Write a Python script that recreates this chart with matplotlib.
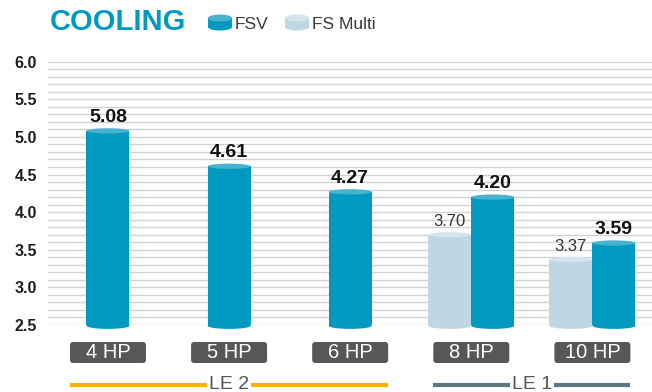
import matplotlib
matplotlib.use('Agg')
import matplotlib.pyplot as plt
from matplotlib.patches import Rectangle, Ellipse, FancyBboxPatch
from matplotlib.transforms import IdentityTransform, blended_transform_factory

plt.rcParams['font.family'] = ['Liberation Sans', 'DejaVu Sans']

# data
categories = ['4 HP', '5 HP', '6 HP', '8 HP', '10 HP']
fsv = [5.08, 4.61, 4.27, 4.20, 3.59]
fs_multi = [None, None, None, 3.70, 3.37]
groups = [('LE 2', 0, 2, '#F5B400'), ('LE 1', 3, 4, '#5E7783')]

FSV_COL = '#009AC0'
FSV_TOP = '#48B2CF'
MULTI_COL = '#BFD6E5'
MULTI_TOP = '#D5E5EF'

W, H = 652, 392
fig = plt.figure(figsize=(W / 100, H / 100), dpi=100)
ax = fig.add_axes([48 / W, 1 - 325 / H, 1 - 48 / W, (325 - 61.7) / H])

ymin, ymax = 2.5, 6.0
ax.set_xlim(-0.495, 4.492)
ax.set_ylim(ymin, ymax)

# horizontal rules every 0.1
for k in range(36):
    ax.axhline(ymin + k * 0.1, color='#d2d2d2', lw=1.0, zorder=0)

for s in ax.spines.values():
    s.set_visible(False)
ax.set_xticks([])
ax.set_yticks([2.5, 3.0, 3.5, 4.0, 4.5, 5.0, 5.5, 6.0])
ax.set_yticklabels(['%.1f' % v for v in ax.get_yticks()])
ax.tick_params(axis='y', length=0, pad=8, labelsize=11.5, labelcolor='#1e1e1e')
for t in ax.get_yticklabels():
    t.set_fontweight('bold')

bw = 0.355
ell_h = 0.07


def cylinder(xc, val, body, top):
    ax.add_patch(Ellipse((xc, ymin - 0.01), bw, ell_h * 1.2, color=body, lw=0, zorder=2, clip_on=False))
    ax.add_patch(Rectangle((xc - bw / 2, ymin - 0.01), bw, val - ymin + 0.01, color=body, lw=0, zorder=2))
    ax.add_patch(Ellipse((xc, val), bw, ell_h, color=top, lw=0, zorder=3))


for i, cat in enumerate(categories):
    if fs_multi[i] is None:
        x_fsv = i
    else:
        x_m = i - bw / 2
        x_fsv = i + bw / 2
        cylinder(x_m, fs_multi[i], MULTI_COL, MULTI_TOP)
        ax.text(x_m, fs_multi[i] + 0.08, '%.2f' % fs_multi[i], ha='center', va='bottom',
                fontsize=12, color='#333333')
    cylinder(x_fsv, fsv[i], FSV_COL, FSV_TOP)
    ax.text(x_fsv, fsv[i] + 0.07, '%.2f' % fsv[i], ha='center', va='bottom',
            fontsize=14, fontweight='bold', color='#111111')

fig.canvas.draw()
to_px = ax.transData

# category label boxes (fixed size, drawn in pixels)
box_w, box_h = 76, 21
box_cy = H - 352.5
for i, cat in enumerate(categories):
    px = to_px.transform((i, 0))[0]
    fig.add_artist(FancyBboxPatch((px - box_w / 2 + 2, box_cy - box_h / 2 + 2), box_w - 4, box_h - 4,
                                  boxstyle='round,pad=2,rounding_size=3',
                                  transform=IdentityTransform(), fc='#575757', ec='none'))
    fig.text(px / W, box_cy / H, cat, ha='center', va='center', fontsize=14.5,
             color='white')

# group brackets under the labels
line_y = 1 - 385 / H
tr = blended_transform_factory(ax.transData, fig.transFigure)
half = (box_w / 2) / (to_px.transform((1, 0))[0] - to_px.transform((0, 0))[0])
for name, a, b, col in groups:
    x0, x1 = a - half, b + half
    ax.plot([x0, x1], [line_y, line_y], color=col, lw=3, transform=tr, clip_on=False,
            solid_capstyle='butt')
    ax.text((x0 + x1) / 2, line_y + 0.002, name, transform=tr, ha='center', va='center',
            fontsize=14, color='#555555', family=['Liberation Sans Narrow', 'Liberation Sans'],
            bbox=dict(fc='white', ec='none', pad=1.5))

# title and legend
fig.text(50 / W, 1 - 30 / H, 'COOLING', ha='left', va='baseline', fontsize=21,
         fontweight='bold', color='#0099C0')


def legend_icon(x0, body, top):
    y_top, y_bot = H - 18, H - 27
    ih = 7
    fig.add_artist(Ellipse((x0 + 12, y_bot), 24, ih, color=body, lw=0, transform=IdentityTransform()))
    fig.add_artist(Rectangle((x0, y_bot), 24, y_top - y_bot, color=body, lw=0,
                             transform=IdentityTransform()))
    fig.add_artist(Ellipse((x0 + 12, y_top), 24, ih, color=top, lw=0, transform=IdentityTransform()))


legend_icon(208, FSV_COL, FSV_TOP)
legend_icon(285, MULTI_COL, MULTI_TOP)
fig.text(235 / W, 1 - 29 / H, 'FSV', ha='left', va='baseline', fontsize=12.5, color='#3a3a3a')
fig.text(312 / W, 1 - 29 / H, 'FS Multi', ha='left', va='baseline', fontsize=12.5, color='#3a3a3a')

fig.savefig('out.png', dpi=100)
